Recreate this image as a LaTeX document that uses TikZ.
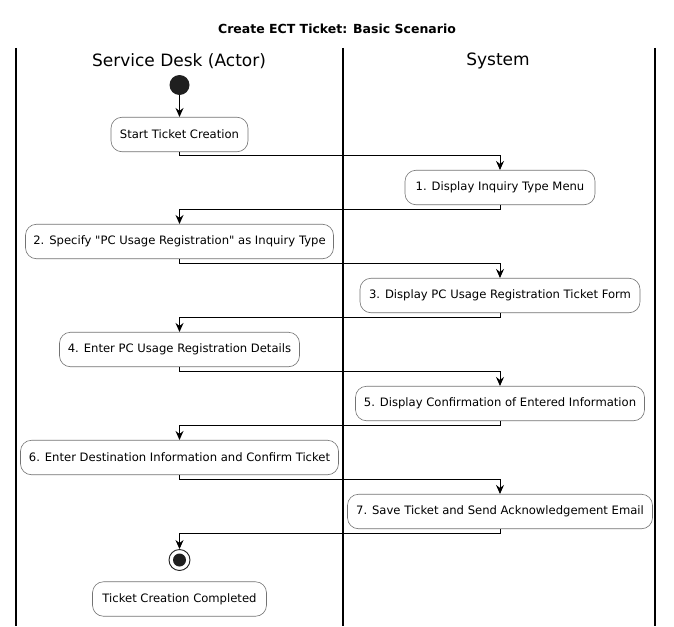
\documentclass[tikz,border=0pt]{standalone}
\usepackage{fontspec}
\setmainfont{DejaVu Sans}
\usetikzlibrary{arrows.meta}
\begin{document}
\begin{tikzpicture}[x=1pt,y=-1pt,
 act/.style={draw=black!55, fill=white, rounded corners=11pt, minimum height=34.5pt, inner sep=0pt, font=\fontsize{11.6}{13}\selectfont, line width=0.6pt},
 flow/.style={line width=0.9pt, -{Stealth[length=9pt,width=8pt,inset=3pt]}},
 lane/.style={line width=1.3pt},
 hdr/.style={font=\fontsize{17}{20}\selectfont}]
\useasboundingbox (0,0) rectangle (674,626);
\node[font=\bfseries\fontsize{12.5}{15}\selectfont] (title) at (337,29) {Create ECT Ticket: Basic Scenario};
\coordinate (l0t) at (16,48); \coordinate (l0b) at (16,626);
\coordinate (l1t) at (343,48); \coordinate (l1b) at (343,626);
\coordinate (l2t) at (655,48); \coordinate (l2b) at (655,626);
\draw[lane] (l0t) -- (l0b);
\draw[lane] (l1t) -- (l1b);
\draw[lane] (l2t) -- (l2b);
\node[hdr] (h1) at (179,61) {Service Desk (Actor)};
\node[hdr] (h2) at (498,61) {System};
\node[circle, fill=black!88, minimum size=20pt, inner sep=0pt] (start) at (179.5,85) {};
\node[act, minimum width=137pt] (a0) at (179.5,134.5) {Start Ticket Creation};
\node[act, minimum width=190pt] (a1) at (500,187.5) {1. Display Inquiry Type Menu};
\node[act, minimum width=308pt] (a2) at (179.5,241.5) {2. Specify \textquotedbl PC Usage Registration\textquotedbl\ as Inquiry Type};
\node[act, minimum width=280pt] (a3) at (500,295.5) {3. Display PC Usage Registration Ticket Form};
\node[act, minimum width=240pt] (a4) at (179.5,349.5) {4. Enter PC Usage Registration Details};
\node[act, minimum width=289pt] (a5) at (500,403.5) {5. Display Confirmation of Entered Information};
\node[act, minimum width=318pt] (a6) at (179.5,457.5) {6. Enter Destination Information and Confirm Ticket};
\node[act, minimum width=305pt] (a7) at (500,511.5) {7. Save Ticket and Send Acknowledgement Email};
\node[circle, draw=black!88, fill=white, line width=0.9pt, minimum size=21pt, inner sep=0pt] (end) at (179.5,560) {};
\node[circle, fill=black!88, minimum size=13pt, inner sep=0pt] (endin) at (end.center) {};
\node[act, minimum width=174pt] (done) at (179.5,599) {Ticket Creation Completed};
\draw[flow] (start.south) -- (a0.north);
\draw[flow] (a0.south) -- ++(0,3.5) -| (a1.north);
\draw[flow] (a1.south) -- ++(0,4.5) -| (a2.north);
\draw[flow] (a2.south) -- ++(0,4.5) -| (a3.north);
\draw[flow] (a3.south) -- ++(0,4.5) -| (a4.north);
\draw[flow] (a4.south) -- ++(0,4.5) -| (a5.north);
\draw[flow] (a5.south) -- ++(0,4.5) -| (a6.north);
\draw[flow] (a6.south) -- ++(0,4.5) -| (a7.north);
\draw[flow] (a7.south) -- ++(0,4.5) -| (end.north);
\end{tikzpicture}
\end{document}
